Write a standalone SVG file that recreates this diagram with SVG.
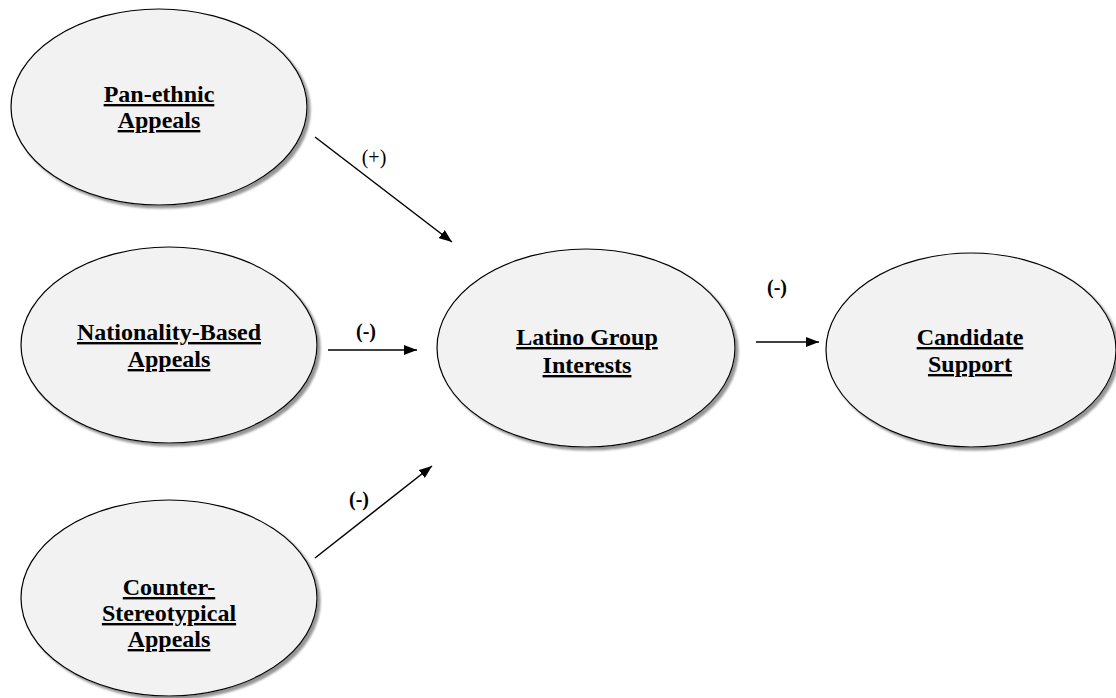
<svg xmlns="http://www.w3.org/2000/svg" width="1116" height="698" viewBox="0 0 1116 698">
<style>
.node ellipse{fill:#f2f2f2;stroke:#000;stroke-width:1.2;filter:url(#sh)}
.node text{font-family:"Liberation Serif","Times New Roman",serif;font-weight:bold;font-size:24px;text-anchor:middle;text-decoration:underline;fill:#000}
.edges line{stroke:#000;stroke-width:1.5;marker-end:url(#ah)}
.lbl{font-family:"Liberation Serif","Times New Roman",serif;font-weight:bold;font-size:20px;text-anchor:middle;fill:#000}
</style>
<defs>
<filter id="sh" x="-10%" y="-10%" width="125%" height="125%">
<feDropShadow dx="3" dy="3" stdDeviation="1.2" flood-color="#7a7a7a" flood-opacity="0.8"/>
</filter>
<marker id="ah" markerUnits="userSpaceOnUse" markerWidth="14" markerHeight="10" refX="13" refY="5" orient="auto">
<path d="M0,0 L13,5 L0,10 z" fill="#000"/>
</marker>
</defs>
<rect width="1116" height="698" fill="#fff"/>
<g id="pan-ethnic" class="node">
<ellipse cx="159" cy="107" rx="148" ry="98"/>
<text x="159" y="102">Pan-ethnic</text>
<text x="159" y="128">Appeals</text>
</g>
<g id="nationality" class="node">
<ellipse cx="169" cy="345" rx="148" ry="98"/>
<text x="169" y="340">Nationality-Based</text>
<text x="169" y="367">Appeals</text>
</g>
<g id="counter" class="node">
<ellipse cx="169" cy="598" rx="148" ry="98"/>
<text x="169" y="595">Counter-</text>
<text x="169" y="621">Stereotypical</text>
<text x="169" y="647">Appeals</text>
</g>
<g id="latino" class="node">
<ellipse cx="586" cy="348" rx="149" ry="99"/>
<text x="587" y="345">Latino Group</text>
<text x="587" y="373">Interests</text>
</g>
<g id="candidate" class="node">
<ellipse cx="971" cy="350" rx="145" ry="97"/>
<text x="970" y="345">Candidate</text>
<text x="970" y="372">Support</text>
</g>
<g id="connectors" class="edges">
<line x1="315" y1="137" x2="452" y2="242"/>
<line x1="328" y1="350" x2="417" y2="350"/>
<line x1="315" y1="558" x2="432" y2="466"/>
<line x1="756" y1="342" x2="819" y2="342"/>
</g>
<g id="labels">
<text class="lbl" x="374" y="164" style="font-weight:normal">(+)</text>
<text class="lbl" x="366" y="338">(-)</text>
<text class="lbl" x="777" y="294">(-)</text>
<text class="lbl" x="359" y="506">(-)</text>
</g>
</svg>
